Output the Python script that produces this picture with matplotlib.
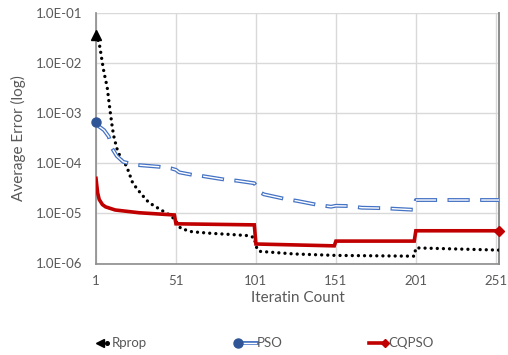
import numpy as np
import matplotlib
matplotlib.use("Agg")
import matplotlib.pyplot as plt
from matplotlib.lines import Line2D
from matplotlib.ticker import FuncFormatter, FixedLocator

plt.rcParams["font.family"] = ["Lato", "DejaVu Sans"]
plt.rcParams["lines.scale_dashes"] = False

# values
rprop_iter = [1, 3, 4, 5, 6, 8, 9, 10, 11, 12, 14, 17, 20, 22, 24, 29, 34, 40, 46, 50,
              54, 61, 73, 85, 96, 100, 101, 103, 125, 151, 200, 201, 253]
rprop_err = [3.7e-2, 2.5e-2, 1.6e-2, 1.0e-2, 6.5e-3, 3.3e-3, 1.8e-3, 1.0e-3, 5.8e-4, 3.6e-4,
             2.0e-4, 1.15e-4, 9.0e-5, 6.0e-5, 4.0e-5, 2.5e-5, 1.65e-5, 1.26e-5, 9.7e-6, 7.8e-6,
             5.0e-6, 4.3e-6, 4.0e-6, 3.8e-6, 3.6e-6, 3.3e-6, 2.2e-6, 1.75e-6, 1.55e-6, 1.45e-6,
             1.4e-6, 2.05e-6, 1.85e-6]

pso_iter = [1, 3, 6, 9, 11, 14, 18, 26, 41, 48, 51, 53, 61, 67, 82, 89, 100, 101, 104, 106,
            119, 127, 140, 148, 151, 160, 167, 181, 189, 200, 201, 253]
pso_err = [6.8e-4, 5.4e-4, 4.6e-4, 3.4e-4, 2.0e-4, 1.4e-4, 1.07e-4, 9.3e-5, 8.5e-5, 7.9e-5,
           7.4e-5, 6.6e-5, 5.9e-5, 5.6e-5, 4.7e-5, 4.5e-5, 4.0e-5, 3.6e-5, 2.6e-5, 2.4e-5,
           1.95e-5, 1.77e-5, 1.47e-5, 1.36e-5, 1.42e-5, 1.4e-5, 1.3e-5, 1.27e-5, 1.23e-5,
           1.18e-5, 1.85e-5, 1.85e-5]

cq_iter = [1, 2, 3, 5, 7, 13, 28, 41, 50, 51, 100, 101, 150, 151, 200, 201, 253]
cq_err = [5.0e-5, 2.6e-5, 1.9e-5, 1.5e-5, 1.35e-5, 1.17e-5, 1.03e-5, 9.7e-6, 9.3e-6, 6.2e-6,
          5.9e-6, 2.45e-6, 2.25e-6, 2.8e-6, 2.8e-6, 4.5e-6, 4.5e-6]

xticks = [1, 51, 101, 151, 201, 251]
yticks = [1e-6, 1e-5, 1e-4, 1e-3, 1e-2, 1e-1]

grey = "#595959"
blue = "#2F5597"
pso_blue = "#4472C4"
red = "#C00000"

fig = plt.figure(figsize=(5.08, 3.55), dpi=100)
ax = fig.add_axes([96 / 508, 1 - 263.5 / 355, 403 / 508, 250.5 / 355])

# Rprop: black round dots
ax.plot(rprop_iter, rprop_err, color="black", lw=2.4, linestyle=(0, (0.01, 4.4)),
        dash_capstyle="round", zorder=3)
ax.plot(rprop_iter[0], rprop_err[0], marker="^", color="black", ms=7, zorder=4, clip_on=False)

# PSO: compound (double) dashed line
ax.plot(pso_iter, pso_err, color=pso_blue, lw=2.8, linestyle=(0, (16, 7.5)), zorder=3)
ax.plot(pso_iter, pso_err, color="white", lw=1.0, linestyle=(22.7, (14.4, 9.1)), zorder=3)
ax.plot(pso_iter[0], pso_err[0], marker="o", color=blue, ms=6.5, zorder=4, clip_on=False)

# CQPSO: red solid
ax.plot(cq_iter, cq_err, color=red, lw=2.6, zorder=3, solid_joinstyle="miter")
ax.plot(cq_iter[-1], cq_err[-1], marker="D", color=red, ms=5, zorder=4, clip_on=False)

ax.set_yscale("log")
ax.set_xlim(1, 253)
ax.set_ylim(1e-6, 1e-1)
ax.xaxis.set_major_locator(FixedLocator(xticks))
ax.yaxis.set_major_locator(FixedLocator(yticks))
ax.yaxis.set_minor_locator(FixedLocator([]))
ax.yaxis.set_major_formatter(FuncFormatter(lambda v, p: "%.1E" % v))
ax.tick_params(length=0, labelsize=9.5, labelcolor=grey, pad=10)
ax.tick_params(axis="x", pad=8)
ax.grid(True, color="#D9D9D9", lw=1.0)
ax.set_axisbelow(True)
for s in ["left", "bottom"]:
    ax.spines[s].set_color("#8C8C8C")
    ax.spines[s].set_linewidth(1.2)
ax.spines["right"].set_color("#8C8C8C")
ax.spines["right"].set_linewidth(1.4)
ax.spines["top"].set_visible(False)

ax.set_xlabel("Iteratin Count", fontsize=11, color=grey, labelpad=3)
ax.set_ylabel("Average Error (log)", fontsize=11, color=grey, labelpad=7)

# legend drawn as in the reference (marker clipped at one end)
ly = 1 - 343 / 355
def fx(px):
    return px / 508

fig.add_artist(Line2D([fx(107)], [ly], marker="o", color="black", ms=2.6, linestyle="none"))
fig.add_artist(Line2D([fx(100)], [ly], marker="<", color="black", ms=6, linestyle="none"))
fig.text(fx(112), ly, "Rprop", fontsize=9.5, color=grey, va="center")

fig.add_artist(Line2D([fx(238), fx(257)], [ly, ly], color=pso_blue, lw=2.8))
fig.add_artist(Line2D([fx(238), fx(256)], [ly, ly], color="white", lw=1.0))
fig.add_artist(Line2D([fx(238)], [ly], marker="o", color=blue, ms=6.5, linestyle="none"))
fig.text(fx(257), ly, "PSO", fontsize=9.5, color=grey, va="center")

fig.add_artist(Line2D([fx(369), fx(385)], [ly, ly], color=red, lw=2.6))
fig.add_artist(Line2D([fx(385)], [ly], marker="D", color=red, ms=4.5, linestyle="none"))
fig.text(fx(388), ly, "CQPSO", fontsize=9.5, color=grey, va="center")

fig.savefig("out.png", dpi=100)
